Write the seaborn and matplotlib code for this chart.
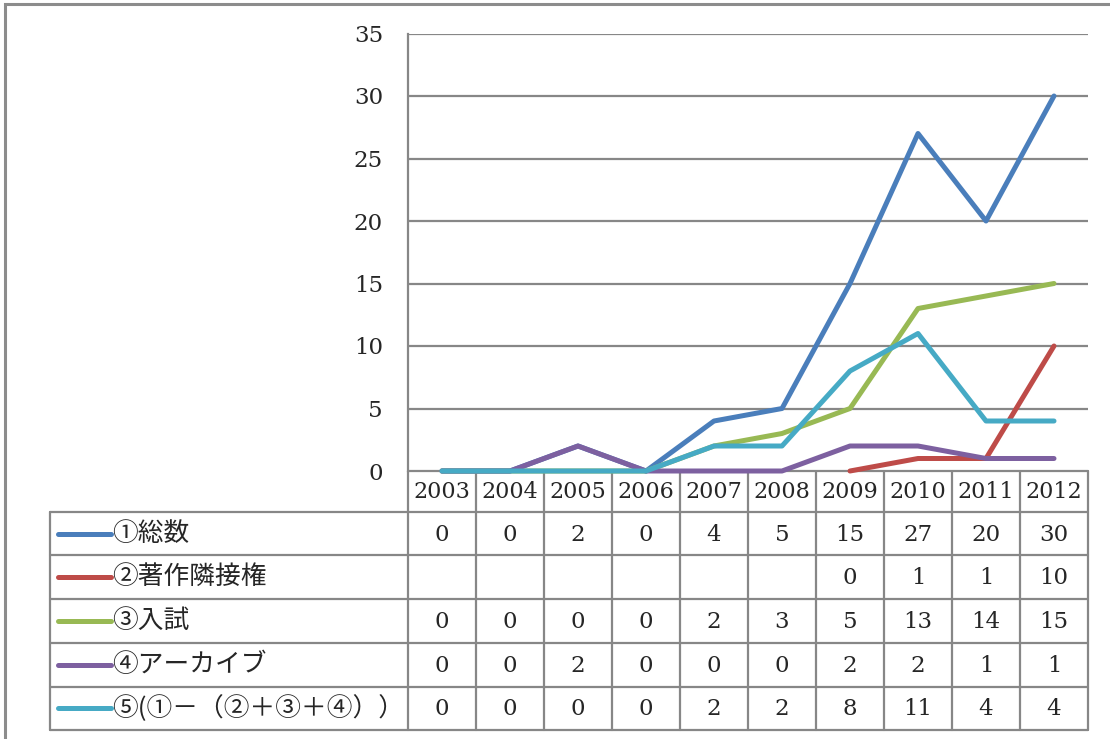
import numpy as np
import pandas as pd
import matplotlib.pyplot as plt
import seaborn as sns

# --- data ---
YEARS = [2003, 2004, 2005, 2006, 2007, 2008, 2009, 2010, 2011, 2012]
LABELS = ["①総数", "②著作隣接権", "③入試", "④アーカイブ", "⑤(①－（②＋③＋④））"]
TOTAL = [0, 0, 2, 0, 4, 5, 15, 27, 20, 30]
NEIGHBOR = [None, None, None, None, None, None, 0, 1, 1, 10]
EXAM = [0, 0, 0, 0, 2, 3, 5, 13, 14, 15]
ARCHIVE = [0, 0, 2, 0, 0, 0, 2, 2, 1, 1]
OTHER = [0, 0, 0, 0, 2, 2, 8, 11, 4, 4]
SERIES = [TOTAL, NEIGHBOR, EXAM, ARCHIVE, OTHER]
COLORS = ["#4A7EBB", "#BE4B48", "#98B954", "#7D60A0", "#46AAC5"]
Y_TICKS = [0, 5, 10, 15, 20, 25, 30, 35]

sns.set_style("white")
plt.rcParams["font.family"] = ["DejaVu Serif", "Noto Sans CJK JP"]

W, H = 1110, 739
GRID = "#878787"

# pixel layout of the Excel-style chart
PLOT_L, PLOT_R, PLOT_T, PLOT_B = 408, 1088, 33.5, 471
YEAR_ROW_B = 511.7
ROW_H = 43.7
TABLE_L = 50
COL_W = (PLOT_R - PLOT_L) / len(YEARS)

fig = plt.figure(figsize=(W / 100, H / 100), dpi=100)
ax = fig.add_axes([PLOT_L / W, 1 - PLOT_B / H, (PLOT_R - PLOT_L) / W, (PLOT_B - PLOT_T) / H])

for vals, col in zip(SERIES, COLORS):
    df = pd.DataFrame({"year": YEARS, "value": [np.nan if v is None else v for v in vals]}).dropna()
    sns.lineplot(data=df, x="year", y="value", ax=ax, color=col, lw=3.6,
                 solid_capstyle="round", solid_joinstyle="round", clip_on=False, zorder=3)

ax.set_xlim(YEARS[0] - 0.5, YEARS[-1] + 0.5)
ax.set_ylim(0, 35)
ax.set_yticks(Y_TICKS)
ax.set_yticklabels([str(t) for t in Y_TICKS], fontsize=16.5)
ax.set_xticks([])
ax.set_xlabel("")
ax.set_ylabel("")
ax.tick_params(axis="y", length=0, pad=18)
ax.yaxis.grid(True, color=GRID, lw=1.6)
ax.set_axisbelow(True)
for s in ["top", "right", "bottom"]:
    ax.spines[s].set_visible(False)
ax.spines["left"].set_color(GRID)
ax.spines["left"].set_linewidth(1.6)

# overlay in pixel coordinates for the data table
ov = fig.add_axes([0, 0, 1, 1], zorder=-1)
ov.set_xlim(0, W)
ov.set_ylim(H, 0)
ov.axis("off")

# outer chart border (top/left visible)
ov.plot([5, 5, W + 10], [H + 10, 4, 4], color="#8c8c8c", lw=2.2, solid_joinstyle="miter")

n = len(SERIES)
table_b = YEAR_ROW_B + n * ROW_H
# horizontal lines
ov.plot([PLOT_L, PLOT_R], [PLOT_B, PLOT_B], color=GRID, lw=1.6)
for i in range(n + 1):
    y = YEAR_ROW_B + i * ROW_H
    ov.plot([TABLE_L, PLOT_R], [y, y], color=GRID, lw=1.6)
# vertical lines
ov.plot([TABLE_L, TABLE_L], [YEAR_ROW_B, table_b], color=GRID, lw=1.6)
for k in range(len(YEARS) + 1):
    x = PLOT_L + k * COL_W
    ov.plot([x, x], [PLOT_B, table_b], color=GRID, lw=1.6)

# year header
for k, yr in enumerate(YEARS):
    ov.text(PLOT_L + (k + 0.5) * COL_W, (PLOT_B + YEAR_ROW_B) / 2 + 1, str(yr),
            ha="center", va="center", fontsize=16)

# rows: legend key, label, values
for i, (lab, vals, col) in enumerate(zip(LABELS, SERIES, COLORS)):
    yc = YEAR_ROW_B + (i + 0.5) * ROW_H
    ov.plot([58, 111], [yc, yc], color=col, lw=3.6, solid_capstyle="round")
    ov.text(112, yc, lab, ha="left", va="center", fontsize=18.5,
            family=["Noto Sans CJK JP", "DejaVu Serif"])
    for k, v in enumerate(vals):
        if v is None:
            continue
        ov.text(PLOT_L + (k + 0.5) * COL_W, yc + 1, str(v), ha="center", va="center", fontsize=16.5)

fig.savefig("out.png", dpi=100)
